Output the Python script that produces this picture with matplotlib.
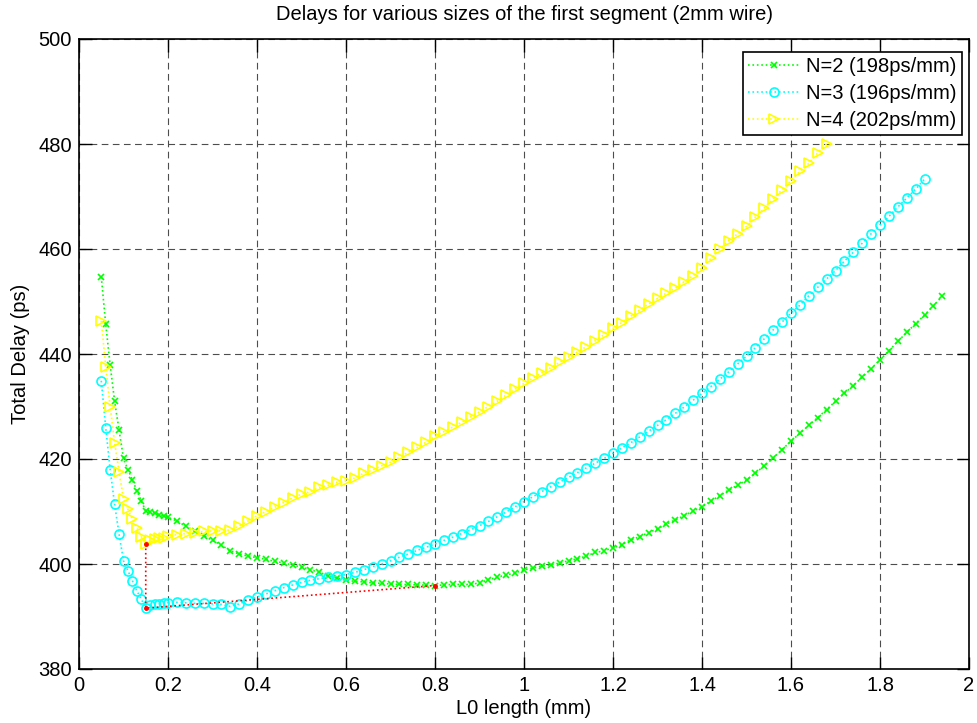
import numpy as np
import matplotlib
matplotlib.use("Agg")
import matplotlib.pyplot as plt
from matplotlib.ticker import FuncFormatter, MultipleLocator

plt.rcParams['font.family'] = ['Liberation Sans', 'DejaVu Sans']

# First-segment length sweep: fine steps up to 0.2 mm, then 0.02 mm steps
x_fine = np.round(np.arange(0.05, 0.2001, 0.01), 2)

# N=2 (green)
delay_n2 = [454.7, 445.7, 437.9, 431.0, 425.5, 420.1, 418.0, 416.0, 414.0, 412.0,
            410.1, 409.9, 409.7, 409.4, 409.1, 408.9,
            408.2, 407.2, 406.3, 405.4, 404.5, 403.6, 402.5, 401.9, 401.5, 401.2,
            400.9, 400.5, 400.2, 399.8, 399.4, 398.9, 398.4, 397.8, 397.3, 396.9,
            396.7, 396.6, 396.4, 396.3, 396.2, 396.1, 396.1, 396.0, 396.0, 395.9,
            396.0, 396.1, 396.1, 396.1, 396.4, 397.0, 397.5, 397.9, 398.3, 398.9,
            399.2, 399.6, 399.8, 400.2, 400.6, 401.0, 401.5, 402.2, 402.5, 403.1,
            403.7, 404.6, 405.2, 406.0, 406.7, 407.6, 408.4, 409.2, 410.1, 410.9,
            412.0, 413.0, 414.1, 415.0, 416.0, 417.3, 418.7, 420.2, 421.8, 423.4,
            424.9, 426.4, 427.9, 429.4, 431.0, 432.5, 434.0, 435.6, 437.2, 438.9,
            440.6, 442.4, 444.1, 445.8, 447.4, 449.2, 451.0]

# N=3 (cyan)
delay_n3 = [434.9, 426.0, 418.0, 411.4, 405.7, 400.6, 398.7, 396.8, 394.9, 393.3,
            391.6, 392.1, 392.3, 392.4, 392.5, 392.6,
            392.7, 392.6, 392.5, 392.5, 392.4, 392.3, 391.9, 392.4, 393.1, 393.7,
            394.3, 394.9, 395.5, 396.0, 396.5, 396.9, 397.2, 397.5, 397.7, 398.0,
            398.4, 398.9, 399.5, 400.0, 400.6, 401.3, 401.9, 402.6, 403.2, 403.8,
            404.5, 405.1, 405.8, 406.5, 407.3, 408.1, 409.0, 409.9, 410.9, 411.9,
            412.8, 413.8, 414.7, 415.6, 416.5, 417.4, 418.3, 419.2, 420.1, 421.1,
            422.1, 423.1, 424.2, 425.3, 426.4, 427.5, 428.7, 429.9, 431.2, 432.5,
            433.8, 435.2, 436.6, 438.1, 439.6, 441.2, 442.9, 444.6, 446.1, 447.8,
            449.3, 451.1, 452.7, 454.3, 455.9, 457.7, 459.4, 461.1, 462.9, 464.6,
            466.2, 468.0, 469.7, 471.4, 473.3]

# N=4 (yellow)
delay_n4 = [446.3, 437.6, 430.0, 423.1, 417.6, 412.3, 410.4, 408.6, 406.9, 405.2,
            403.8, 404.5, 404.7, 404.9, 405.0, 405.3,
            405.6, 405.8, 406.0, 406.2, 406.3, 406.3, 406.5, 407.2, 408.2, 409.2,
            410.0, 410.8, 411.7, 412.6, 413.3, 413.8, 414.6, 415.0, 415.6, 415.8,
            416.4, 417.3, 417.9, 418.7, 419.4, 420.3, 421.3, 422.2, 423.2, 424.3,
            425.2, 426.1, 427.0, 428.0, 429.0, 430.0, 431.0, 432.2, 433.3, 434.4,
            435.4, 436.4, 437.4, 438.4, 439.4, 440.4, 441.4, 442.5, 443.7, 444.9,
            446.0, 447.2, 448.4, 449.5, 450.6, 451.6, 452.5, 453.8, 454.9, 456.4,
            458.2, 460.0, 461.6, 462.9, 464.3, 466.1, 467.8, 469.5, 471.3, 473.0,
            474.8, 476.3, 478.3, 480.0]

# Path through the optimum of each configuration
opt_x = [0.15, 0.15, 0.80]
opt_y = [403.8, 391.6, 395.9]

labels = ["N=2 (198ps/mm)", "N=3 (196ps/mm)", "N=4 (202ps/mm)"]

FS = 14.5


def sweep(n):
    coarse = np.round(0.22 + 0.02 * np.arange(n - len(x_fine)), 2)
    return np.concatenate([x_fine, coarse])


fig = plt.figure(figsize=(9.77, 7.23), dpi=100)
ax = fig.add_axes([79 / 977, 1 - 669 / 723, 890 / 977, 630 / 723])

ms = 6.5
ax.plot(sweep(len(delay_n2)), delay_n2, linestyle=':', color=(0, 1, 0), lw=1.2,
        marker='x', ms=5, mew=1.2, label=labels[0])
ax.plot(sweep(len(delay_n3)), delay_n3, linestyle=':', color=(0, 1, 1), lw=1.2,
        marker='o', ms=ms, mew=1.2, mfc='none', label=labels[1])
ax.plot(sweep(len(delay_n4)), delay_n4, linestyle=':', color=(1, 1, 0), lw=1.2,
        marker='>', ms=ms + 1, mew=1.2, mfc='none', label=labels[2])
ax.plot(opt_x, opt_y, linestyle=':', color=(1, 0, 0), lw=1.2,
        marker='.', ms=5)

ax.set_xlim(0, 2)
ax.set_ylim(380, 500)
ax.xaxis.set_major_locator(MultipleLocator(0.2))
ax.yaxis.set_major_locator(MultipleLocator(20))
ax.xaxis.set_major_formatter(FuncFormatter(lambda v, p: f"{v:g}"))
ax.yaxis.set_major_formatter(FuncFormatter(lambda v, p: f"{v:g}"))

ax.grid(True, color='0.3', linestyle=(0, (6, 4)), linewidth=0.8)
ax.set_axisbelow(True)
ax.tick_params(direction='in', length=9, width=1, top=True, right=True,
               labelsize=FS, pad=5)
for s in ax.spines.values():
    s.set_linewidth(1.2)

ax.set_title("Delays for various sizes of the first segment (2mm wire)",
             fontsize=FS, pad=14)
ax.set_xlabel("L0 length (mm)", fontsize=FS, labelpad=3)
ax.set_ylabel("Total Delay (ps)", fontsize=FS, labelpad=6)

leg = ax.legend(loc='upper right', bbox_to_anchor=(0.992, 0.979),
                borderaxespad=0, fontsize=FS, fancybox=False, framealpha=1,
                edgecolor='black', handlelength=2.6, handletextpad=0.3,
                labelspacing=0.4, borderpad=0.25)
leg.get_frame().set_linewidth(1.2)

fig.savefig("out.png", dpi=100)
